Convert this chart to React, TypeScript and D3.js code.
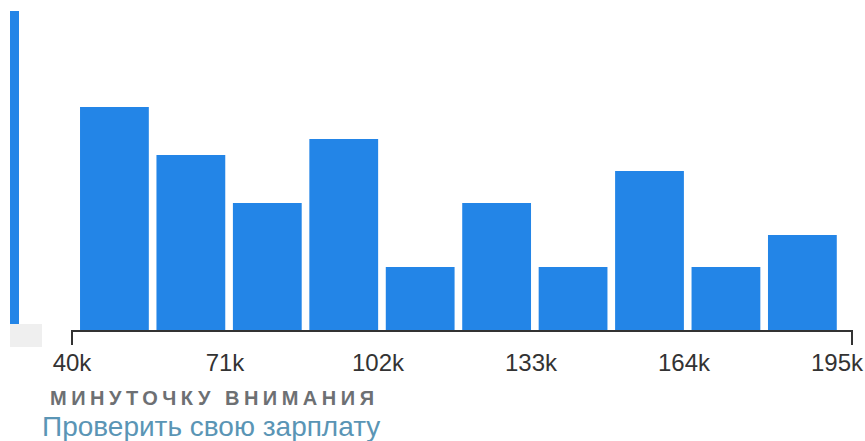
import React, { useEffect, useRef } from "react";
import * as d3 from "d3";

const binIndex = [0, 1, 2, 3, 4, 5, 6, 7, 8, 9];
const counts = [14, 11, 8, 12, 4, 8, 4, 10, 4, 6];
const tickValues = [40, 71, 102, 133, 164, 195];
const indicatorValue = 20;
const titleText = "МИНУТОЧКУ ВНИМАНИЯ";
const linkText = "Проверить свою зарплату";

const W = 865;
const H = 441;
const FONT = "'Liberation Sans', Arial, Helvetica, sans-serif";
const BLUE = "#2385e7";

export default function App() {
  const ref = useRef<SVGSVGElement | null>(null);

  useEffect(() => {
    const svg = d3.select(ref.current);
    svg.selectAll("*").remove();

    const y = d3.scaleLinear().domain([0, 20]).range([331, 11]);
    const xBand = d3
      .scaleBand<number>()
      .domain(binIndex)
      .range([76.2, 840.6])
      .paddingInner(0.1)
      .paddingOuter(0.05);
    const xLab = d3.scaleLinear().domain([40, 195]).range([72, 837]);

    // left indicator
    svg
      .append("rect")
      .attr("x", 10)
      .attr("y", y(indicatorValue))
      .attr("width", 9)
      .attr("height", 324 - y(indicatorValue))
      .attr("fill", BLUE);
    svg
      .append("rect")
      .attr("x", 10)
      .attr("y", 324)
      .attr("width", 32)
      .attr("height", 23)
      .attr("fill", "#efefef");

    // bars
    svg
      .append("g")
      .selectAll("rect")
      .data(binIndex)
      .join("rect")
      .attr("x", (d) => xBand(d)!)
      .attr("y", (d) => y(counts[d]))
      .attr("width", xBand.bandwidth())
      .attr("height", (d) => y(0) - 1 - y(counts[d]))
      .attr("fill", BLUE);

    // axis
    const x0 = xLab(40);
    const x1 = xBand.range()[1] + 11.4;
    svg
      .append("path")
      .attr("d", `M${x0},345V${y(0)}H${x1}V345`)
      .attr("fill", "none")
      .attr("stroke", "#333")
      .attr("stroke-width", 2);

    svg
      .append("g")
      .selectAll("text")
      .data(tickValues)
      .join("text")
      .attr("x", (d) => xLab(d))
      .attr("y", 371)
      .attr("text-anchor", "middle")
      .attr("font-family", FONT)
      .attr("font-size", 24)
      .attr("fill", "#333")
      .text((d) => `${d}k`);

    svg
      .append("text")
      .attr("x", 50)
      .attr("y", 405)
      .attr("font-family", FONT)
      .attr("font-size", 20)
      .attr("font-weight", "bold")
      .attr("letter-spacing", 4.5)
      .attr("fill", "#6d7073")
      .text(titleText);

    svg
      .append("text")
      .attr("x", 42)
      .attr("y", 436)
      .attr("font-family", FONT)
      .attr("font-size", 28)
      .attr("fill", "#5a95b5")
      .text(linkText);
  }, []);

  return (
    <svg
      ref={ref}
      width={W}
      height={H}
      style={{ position: "absolute", left: 0, top: 0, background: "#fff" }}
    />
  );
}
